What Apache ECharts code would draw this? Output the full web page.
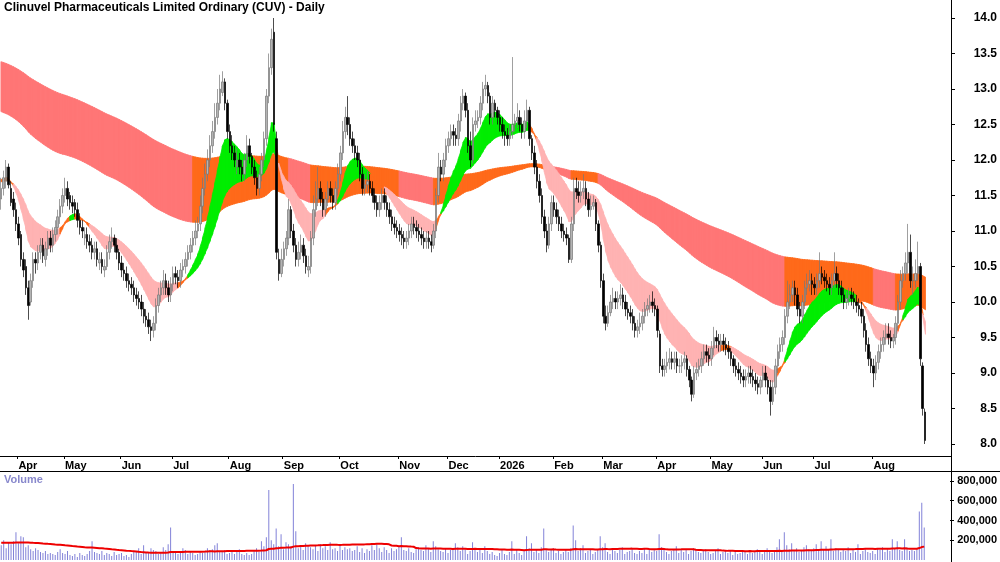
<!DOCTYPE html>
<html lang="en">
<head>
<meta charset="UTF-8">
<title>CUV Daily</title>
<script src="https://cdn.jsdelivr.net/npm/echarts@6/dist/echarts.min.js"></script>
<style>
  html,body{margin:0;padding:0;background:#fff;}
  #chart{width:1000px;height:562px;}
</style>
</head>
<body>
<div id="chart"></div>
<script>
// ---- data ----
var monthTickIndex  = [7, 26, 49, 70, 93, 115, 138, 162, 182, 203, 225, 245, 267, 289, 310, 331, 355];
var monthTickLabels = ['Apr','May','Jun','Jul','Aug','Sep','Oct','Nov','Dec','2026','Feb','Mar','Apr','May','Jun','Jul','Aug'];
var emptyBarsRight = 10;

var opens = [
11.45,11.6,11.7,11.9,11.6,11.45,11.3,11.1,10.95,10.6,
10.5,10.2,10.0,10.3,10.6,10.55,10.7,10.8,10.6,10.75,
10.9,10.8,10.95,11.05,11.2,11.35,11.5,11.6,11.5,11.4,
11.4,11.3,11.15,11.05,10.9,10.95,10.85,10.8,10.7,10.75,
10.55,10.6,10.45,10.5,10.7,10.85,10.9,10.8,10.7,10.55,
10.45,10.4,10.3,10.25,10.2,10.1,10.05,10.0,9.9,9.8,
9.75,9.65,9.6,9.7,9.95,10.1,10.2,10.3,10.2,10.1,
10.25,10.4,10.35,10.3,10.45,10.5,10.6,10.7,10.8,10.9,
11.0,11.1,11.35,11.6,11.8,12.0,12.2,12.4,12.6,12.8,
12.95,13.1,12.8,12.4,12.2,12.1,11.9,12.0,11.9,11.8,
12.0,12.2,12.05,11.9,11.75,11.6,11.8,12.0,12.3,12.9,
13.3,13.8,12.3,10.6,10.4,10.6,10.75,10.9,11.3,11.0,
10.8,10.6,10.7,10.8,10.65,10.45,10.5,10.9,11.3,11.45,
11.6,11.45,11.3,11.45,11.6,11.5,11.4,11.6,11.8,12.1,
12.4,12.6,12.5,12.3,12.2,12.1,12.0,11.8,11.6,11.65,
11.7,11.6,11.5,11.4,11.3,11.4,11.5,11.4,11.3,11.2,
11.1,11.05,11.0,10.95,10.9,10.85,10.9,11.0,11.1,11.05,
11.0,10.95,10.9,10.85,10.9,10.85,10.8,11.0,11.5,11.9,
11.8,12.0,12.2,12.3,12.4,12.35,12.3,12.55,12.8,12.9,
12.7,12.2,12.0,12.5,12.55,12.6,12.8,13.0,13.05,12.9,
12.6,12.8,12.7,12.6,12.5,12.4,12.35,12.3,12.4,12.5,
12.55,12.6,12.5,12.4,12.55,12.7,12.3,12.1,11.9,11.7,
11.5,11.2,11.0,10.8,11.1,11.4,11.3,11.2,11.1,11.0,
10.95,10.9,10.6,11.1,11.6,11.55,11.5,11.55,11.6,11.45,
11.3,11.35,11.4,11.1,10.8,10.3,9.8,9.7,9.85,10.0,
10.05,10.0,10.05,10.1,10.0,9.9,9.85,9.8,9.7,9.6,
9.65,9.7,9.8,9.9,9.95,10.0,9.95,9.9,9.55,9.1,
9.05,9.1,9.15,9.2,9.15,9.2,9.1,9.1,9.15,9.2,
9.05,8.9,8.7,9.0,9.05,9.1,9.2,9.3,9.25,9.2,
9.35,9.5,9.45,9.4,9.45,9.4,9.35,9.3,9.2,9.1,
9.05,9.0,8.95,8.9,8.95,9.0,8.95,8.9,8.85,8.8,
8.9,9.0,8.9,8.8,8.6,8.8,9.1,9.3,9.4,9.5,
9.8,10.0,10.1,10.2,10.1,9.9,9.8,10.0,10.2,10.25,
10.3,10.25,10.2,10.3,10.4,10.35,10.3,10.25,10.2,10.3,
10.4,10.3,10.2,10.1,10.0,10.05,10.1,10.05,10.0,9.95,
9.9,9.8,9.6,9.4,9.2,9.1,9.0,9.15,9.3,9.4,
9.5,9.55,9.5,9.45,9.5,9.7,10.0,10.3,10.4,10.55,
10.7,10.3,10.3,10.4,10.5,9.1,8.45];

var closes = [
11.6,11.75,11.9,11.65,11.4,11.3,11.1,10.9,10.6,10.45,
10.2,9.95,10.3,10.6,10.55,10.7,10.8,10.65,10.75,10.9,
10.8,10.95,11.05,11.2,11.35,11.5,11.6,11.45,11.4,11.35,
11.3,11.15,11.05,11.0,10.95,10.85,10.8,10.7,10.75,10.6,
10.6,10.5,10.5,10.7,10.85,10.9,10.8,10.7,10.55,10.45,
10.4,10.3,10.25,10.2,10.1,10.05,10.0,9.9,9.8,9.75,
9.65,9.6,9.7,9.95,10.1,10.2,10.3,10.2,10.1,10.25,
10.4,10.35,10.3,10.45,10.5,10.6,10.7,10.8,10.9,11.0,
11.1,11.35,11.6,11.8,12.0,12.2,12.4,12.6,12.8,13.0,
13.1,12.8,12.4,12.2,12.1,12.0,12.0,11.9,11.8,12.0,
12.2,12.05,11.9,11.75,11.6,11.8,12.0,12.3,12.9,13.3,
13.7,12.5,10.7,10.4,10.6,10.75,10.9,11.3,11.0,10.8,
10.6,10.7,10.8,10.65,10.5,10.5,10.9,11.3,11.45,11.6,
11.45,11.3,11.45,11.6,11.5,11.4,11.6,11.8,12.1,12.4,
12.6,12.5,12.3,12.2,12.1,12.0,11.8,11.6,11.65,11.7,
11.6,11.5,11.4,11.3,11.4,11.5,11.4,11.3,11.2,11.1,
11.05,11.0,10.95,10.9,10.85,10.9,11.0,11.1,11.05,11.0,
10.95,10.9,10.85,10.9,10.85,10.8,11.0,11.5,11.9,11.8,
12.0,12.2,12.3,12.4,12.35,12.3,12.55,12.8,12.9,12.7,
12.2,12.0,12.5,12.55,12.6,12.8,13.0,13.05,12.9,12.6,
12.8,12.7,12.6,12.5,12.4,12.35,12.3,12.4,12.5,12.55,
12.6,12.5,12.4,12.55,12.7,12.3,12.1,11.9,11.7,11.5,
11.2,11.0,10.8,11.1,11.4,11.3,11.2,11.1,11.0,10.95,
10.9,10.6,11.1,11.6,11.55,11.5,11.55,11.6,11.45,11.3,
11.35,11.4,11.1,10.8,10.3,9.8,9.7,9.85,10.0,10.05,
10.0,10.05,10.1,10.0,9.9,9.85,9.8,9.7,9.6,9.65,
9.7,9.8,9.9,9.95,10.0,9.95,9.9,9.6,9.1,9.05,
9.1,9.15,9.2,9.15,9.2,9.1,9.1,9.15,9.2,9.05,
8.9,8.7,9.0,9.05,9.1,9.2,9.3,9.25,9.2,9.35,
9.5,9.45,9.4,9.45,9.4,9.35,9.3,9.2,9.1,9.05,
9.0,8.95,8.9,8.95,9.0,8.95,8.9,8.85,8.8,8.9,
9.0,8.9,8.8,8.6,8.8,9.1,9.3,9.4,9.5,9.8,
10.0,10.1,10.2,10.1,9.9,9.8,10.0,10.2,10.25,10.3,
10.25,10.2,10.3,10.4,10.35,10.3,10.25,10.2,10.3,10.4,
10.3,10.2,10.1,10.0,10.05,10.1,10.05,10.0,9.95,9.9,
9.8,9.6,9.4,9.2,9.1,9.0,9.15,9.3,9.4,9.5,
9.55,9.5,9.45,9.5,9.7,10.0,10.3,10.4,10.55,10.7,
10.3,10.3,10.4,10.5,9.2,8.5,8.05];

var highs = [
11.75,11.85,12.0,11.95,11.7,11.55,11.4,11.2,11.0,10.7,
10.6,10.3,10.4,10.7,10.7,10.8,10.9,10.9,10.85,11.0,
11.0,11.05,11.15,11.3,11.45,11.6,11.75,11.7,11.55,11.5,
11.45,11.4,11.25,11.15,11.05,11.05,10.95,10.9,10.85,10.85,
10.7,10.7,10.6,10.8,10.95,11.05,10.95,10.9,10.75,10.65,
10.55,10.5,10.4,10.35,10.3,10.2,10.15,10.1,10.0,9.9,
9.85,9.75,9.8,10.05,10.2,10.3,10.45,10.4,10.3,10.35,
10.5,10.5,10.45,10.55,10.6,10.7,10.8,10.9,11.0,11.15,
11.2,11.5,11.75,11.95,12.15,12.35,12.55,12.8,13.0,13.2,
13.25,13.15,12.85,12.5,12.35,12.2,12.15,12.1,12.0,12.1,
12.35,12.3,12.1,12.0,11.85,11.9,12.1,12.4,13.0,13.5,
13.85,14.0,12.4,10.75,10.75,10.85,11.0,11.45,11.35,11.1,
10.9,10.85,10.95,10.9,10.75,10.65,11.0,11.5,11.7,11.9,
11.7,11.55,11.55,11.7,11.7,11.6,11.7,11.95,12.2,12.55,
12.75,12.9,12.6,12.4,12.3,12.2,12.1,11.9,11.8,11.85,
11.8,11.7,11.6,11.5,11.5,11.6,11.6,11.5,11.4,11.3,
11.2,11.15,11.1,11.05,11.0,11.0,11.1,11.2,11.2,11.15,
11.1,11.05,11.0,11.0,11.0,10.95,11.1,11.6,12.1,12.0,
12.1,12.3,12.4,12.5,12.5,12.45,12.65,12.9,13.0,12.95,
12.8,12.4,12.6,12.7,12.7,12.9,13.1,13.2,13.1,12.95,
12.9,12.85,12.75,12.7,12.6,12.5,12.45,12.5,13.45,12.65,
12.8,12.7,12.6,12.7,12.85,12.75,12.35,12.2,12.0,11.8,
11.6,11.3,11.1,11.2,11.5,11.5,11.4,11.3,11.2,11.1,
11.05,10.95,11.2,11.75,11.75,11.7,11.7,11.8,11.7,11.55,
11.5,11.5,11.45,11.15,10.85,10.4,9.95,9.95,10.1,10.2,
10.15,10.15,10.25,10.2,10.1,10.0,9.95,9.9,9.8,9.75,
9.85,9.9,10.0,10.05,10.1,10.15,10.05,9.95,9.6,9.2,
9.2,9.3,9.35,9.3,9.3,9.3,9.2,9.25,9.3,9.25,
9.1,8.95,9.1,9.15,9.2,9.3,9.4,9.4,9.35,9.45,
9.65,9.6,9.55,9.55,9.55,9.5,9.45,9.35,9.25,9.2,
9.15,9.1,9.05,9.05,9.1,9.1,9.05,9.0,8.95,8.95,
9.1,9.1,8.95,8.9,8.9,9.2,9.4,9.5,9.6,9.9,
10.3,10.25,10.3,10.3,10.2,10.0,10.1,10.3,10.4,10.45,
10.4,10.35,10.4,10.7,10.5,10.45,10.4,10.35,10.4,10.7,
10.5,10.4,10.3,10.2,10.15,10.2,10.2,10.15,10.1,10.05,
10.0,9.9,9.7,9.5,9.3,9.2,9.25,9.4,9.5,9.6,
9.7,9.7,9.6,9.55,9.8,10.1,10.45,10.5,10.7,11.1,
10.95,10.5,10.6,10.85,10.55,9.15,8.5];

var lows = [
11.3,11.5,11.6,11.6,11.35,11.2,11.0,10.8,10.5,10.35,
10.1,9.75,9.95,10.2,10.4,10.45,10.6,10.55,10.5,10.65,
10.7,10.7,10.85,10.95,11.1,11.25,11.4,11.35,11.3,11.25,
11.2,11.05,10.95,10.9,10.8,10.75,10.7,10.6,10.6,10.5,
10.45,10.4,10.35,10.45,10.6,10.75,10.7,10.6,10.45,10.35,
10.3,10.2,10.15,10.1,10.0,9.95,9.9,9.8,9.7,9.65,
9.55,9.45,9.5,9.6,9.85,10.0,10.1,10.1,10.0,10.0,
10.15,10.25,10.2,10.2,10.35,10.4,10.5,10.6,10.7,10.8,
10.9,11.0,11.25,11.5,11.7,11.9,12.1,12.3,12.5,12.7,
12.9,12.7,12.3,12.1,12.0,11.9,11.8,11.8,11.7,11.7,
11.9,11.95,11.8,11.65,11.5,11.5,11.7,11.9,12.2,12.8,
13.2,12.4,10.6,10.3,10.35,10.5,10.65,10.8,10.9,10.7,
10.5,10.5,10.6,10.55,10.4,10.35,10.4,10.8,11.2,11.35,
11.35,11.2,11.2,11.35,11.4,11.3,11.3,11.5,11.7,12.0,
12.3,12.35,12.2,12.1,12.0,11.9,11.7,11.5,11.5,11.55,
11.5,11.4,11.3,11.2,11.2,11.3,11.3,11.2,11.1,11.0,
10.95,10.9,10.85,10.8,10.75,10.75,10.8,10.9,10.95,10.9,
10.85,10.8,10.75,10.75,10.75,10.7,10.75,10.9,11.4,11.7,
11.7,11.9,12.1,12.2,12.2,12.2,12.2,12.4,12.7,12.6,
12.1,11.9,11.95,12.4,12.45,12.5,12.7,12.9,12.8,12.5,
12.5,12.6,12.5,12.4,12.3,12.2,12.2,12.2,12.3,12.4,
12.45,12.4,12.3,12.3,12.45,12.2,12.0,11.8,11.6,11.4,
11.1,10.9,10.7,10.75,11.0,11.2,11.1,11.0,10.9,10.85,
10.8,10.55,10.55,11.0,11.45,11.4,11.4,11.45,11.35,11.2,
11.2,11.3,11.0,10.7,10.2,9.7,9.6,9.65,9.8,9.9,
9.9,9.9,9.95,9.9,9.8,9.75,9.7,9.6,9.5,9.5,
9.55,9.6,9.7,9.8,9.85,9.85,9.8,9.5,9.0,8.95,
8.95,9.0,9.05,9.05,9.05,9.0,9.0,9.0,9.05,8.95,
8.8,8.6,8.65,8.9,8.95,9.0,9.1,9.15,9.1,9.1,
9.25,9.35,9.3,9.3,9.3,9.25,9.2,9.1,9.0,8.95,
8.9,8.85,8.8,8.8,8.85,8.85,8.8,8.75,8.7,8.7,
8.8,8.8,8.7,8.4,8.55,8.7,9.0,9.2,9.3,9.4,
9.7,9.9,10.0,9.95,9.8,9.7,9.7,9.9,10.1,10.15,
10.1,10.1,10.1,10.2,10.25,10.2,10.15,10.1,10.1,10.2,
10.2,10.1,10.0,9.9,9.9,9.95,9.95,9.9,9.85,9.8,
9.7,9.5,9.3,9.1,9.0,8.8,8.9,9.05,9.2,9.3,
9.4,9.4,9.35,9.35,9.4,9.6,9.9,10.2,10.3,10.4,
10.2,10.1,10.2,10.3,9.1,8.4,8.0];

// volume in thousands of shares
var volumes = [
150,200,120,180,160,190,280,170,240,230,130,150,110,90,120,100,80,70,90,60,
70,60,50,80,110,70,60,90,50,40,60,30,70,50,40,60,90,190,80,70,
60,90,50,70,60,40,80,50,60,70,40,50,30,60,80,90,120,60,150,80,
70,120,100,90,60,80,130,100,160,330,90,70,60,80,120,100,60,90,70,50,
60,80,70,90,120,100,110,150,170,90,80,100,60,70,90,60,80,110,60,50,
70,50,60,90,120,80,190,140,230,710,200,160,320,140,260,110,180,160,140,770,
290,120,150,100,170,140,130,110,150,90,160,120,140,100,180,110,120,90,150,100,
130,110,120,90,100,140,80,120,70,110,90,150,100,160,120,80,130,100,70,120,
90,110,140,230,100,90,120,80,70,110,130,100,90,150,120,80,190,140,110,90,
80,120,70,100,110,170,130,90,140,110,60,90,180,120,80,100,70,140,90,60,
80,50,40,70,100,60,50,80,190,60,100,70,50,90,240,120,170,80,110,70,
130,320,100,80,110,120,70,90,60,80,100,80,120,350,200,90,120,150,70,90,
100,60,80,110,240,130,170,80,60,120,90,70,100,130,60,80,90,110,70,60,
90,70,120,60,100,80,110,90,260,130,100,80,60,90,110,140,70,100,80,110,
60,90,120,100,80,70,90,110,80,60,70,90,120,60,80,100,70,90,50,80,
60,70,90,80,60,100,70,80,110,90,60,80,120,100,70,90,130,210,90,280,
150,110,170,90,120,80,100,130,150,110,90,120,160,100,190,110,140,100,210,90,
120,100,80,110,90,130,70,100,80,160,60,90,110,80,70,90,60,120,100,130,
80,110,90,210,120,190,100,90,210,130,
90,100,90,110,490,580,330];

// ribbon settings: EMA periods and their levels at the left edge
var shortPeriods = [12, 30];
var shortSeeds = [11.75, 11.7];
var longPeriods = [120, 240];
var longSeeds = [12.7, 13.4];
var volumeAvgPeriod = 50;
var volumeAvgSeed = 175;   // average level at the left edge, thousands

// ---- build ----
var nBars = closes.length;
var cats = [];
for (var k = 0; k < nBars + emptyBarsRight; k++) cats.push(String(k));
var tickAt = {};
monthTickIndex.forEach(function (ix, j) { tickAt[ix] = monthTickLabels[j]; });
function isTick(i) { return tickAt.hasOwnProperty(i); }

function ema(src, p, seed) {
    var k = 2 / (p + 1), out = [], prev = seed;
    for (var i = 0; i < src.length; i++) { prev = prev + k * (src[i] - prev); out.push(prev); }
    return out;
}
var sFast = ema(closes, shortPeriods[0], shortSeeds[0]);
var sSlow = ema(closes, shortPeriods[1], shortSeeds[1]);
var lFast = ema(closes, longPeriods[0], longSeeds[0]);
var lSlow = ema(closes, longPeriods[1], longSeeds[1]);

function bandData(a, b, colorOf) {
    var out = [];
    for (var i = 1; i < a.length; i++) {
        out.push([i, Math.max(a[i], b[i]), Math.min(a[i], b[i]),
                  Math.max(a[i-1], b[i-1]), Math.min(a[i-1], b[i-1]), colorOf(i)]);
    }
    return out;
}
var bandColors = ['#00ee00', '#ffb3b3', '#ff6a1a', '#ff7676'];
var shortBand = bandData(sFast, sSlow, function (i) {
    var d = sFast[i] - sSlow[i];
    if (Math.abs(d) < 0.07) return 2;
    return d > 0 ? 0 : 1;
});
// long ribbon turns orange while recent prices trade into it
var longBand = bandData(lFast, lSlow, function (i) {
    var lo = Math.min(lFast[i], lSlow[i]);
    for (var j = Math.max(0, i - 5); j <= i; j++) if (highs[j] > lo) return 2;
    return 3;
});

var volAvg = volumes.map(function (v, i) {
    var s = 0;
    for (var j = i - volumeAvgPeriod + 1; j <= i; j++) s += j < 0 ? volumeAvgSeed : volumes[j];
    return s / volumeAvgPeriod * 1000;
});

var candles = closes.map(function (c, i) { return [opens[i], c, lows[i], highs[i]]; });

function renderBand(params, api) {
    var i = api.value(0);
    var a = api.coord([i - 1, api.value(3)]);
    var b = api.coord([i, api.value(1)]);
    var c = api.coord([i, api.value(2)]);
    var d = api.coord([i - 1, api.value(4)]);
    var col = bandColors[api.value(5)];
    return {
        type: 'polygon',
        shape: { points: [[a[0] - 0.3, a[1]], [b[0] + 0.3, b[1]], [c[0] + 0.3, c[1]], [d[0] - 0.3, d[1]]] },
        style: { fill: col, stroke: col, lineWidth: 0.8 }
    };
}

var chart = echarts.init(document.getElementById('chart'));
var font = 'Arial, "Liberation Sans", sans-serif';
var axisX = 951;
chart.setOption({
    animation: false,
    textStyle: { fontFamily: font },
    grid: [
        { left: 0, right: 1000 - axisX, top: 18, bottom: 118 },
        { left: 0, right: 1000 - axisX, top: 472, bottom: 2 }
    ],
    xAxis: [{
        type: 'category', data: cats, gridIndex: 0, offset: 12,
        axisLine: { lineStyle: { color: '#000' } },
        axisTick: { show: true, length: 3, interval: function (i) { return isTick(i); }, lineStyle: { color: '#000' } },
        axisLabel: {
            interval: function (i) { return isTick(i); },
            formatter: function (v, i) { return tickAt[i] || ''; },
            align: 'left', margin: 4,
            color: '#000', fontSize: 11, fontWeight: 'bold'
        },
        splitLine: { show: false }
    }, {
        type: 'category', data: cats, gridIndex: 1,
        axisLine: { show: false }, axisTick: { show: false }, axisLabel: { show: false }
    }],
    yAxis: [{
        type: 'value', gridIndex: 0, position: 'right', min: 8, max: 14, interval: 0.5,
        axisLine: { show: false },
        axisTick: { show: true, length: 4, lineStyle: { color: '#000' } },
        axisLabel: { color: '#000', fontSize: 12, fontWeight: 'bold', align: 'right', margin: 46,
            formatter: function (v) { return v.toFixed(1); } },
        splitLine: { show: false }
    }, {
        type: 'value', gridIndex: 1, position: 'right', min: 0, max: 891000, interval: 200000,
        axisLine: { show: false },
        axisTick: { show: true, length: 4, lineStyle: { color: '#000' } },
        axisLabel: { color: '#000', fontSize: 11, fontWeight: 'bold', align: 'right', margin: 47, showMinLabel: false,
            formatter: function (v) { return v.toLocaleString('en-US'); } },
        splitLine: { show: false }
    }],
    series: [
        { type: 'custom', name: 'long', xAxisIndex: 0, yAxisIndex: 0, renderItem: renderBand,
          data: longBand, encode: { x: 0, y: [1, 2] }, clip: true, silent: true, z: 1 },
        { type: 'custom', name: 'short', xAxisIndex: 0, yAxisIndex: 0, renderItem: renderBand,
          data: shortBand, encode: { x: 0, y: [1, 2] }, clip: true, silent: true, z: 2 },
        { type: 'candlestick', xAxisIndex: 0, yAxisIndex: 0, data: candles, barWidth: 2, z: 3,
          itemStyle: { color: '#b4b4b4', color0: '#000', borderColor: '#777', borderColor0: '#000', borderWidth: 0.7 } },
        { type: 'bar', xAxisIndex: 1, yAxisIndex: 1, barWidth: 1,
          data: volumes.map(function (v) { return v * 1000; }),
          itemStyle: { color: '#8282d8' } },
        { type: 'line', xAxisIndex: 1, yAxisIndex: 1, data: volAvg, symbol: 'none',
          lineStyle: { color: '#ee0000', width: 2 }, z: 5 }
    ],
    graphic: [
        { type: 'text', left: 4, top: 2, style: { text: 'Clinuvel Pharmaceuticals Limited Ordinary (CUV) - Daily',
          font: 'bold 12px ' + font, fill: '#000' } },
        { type: 'text', left: 4, top: 474, style: { text: 'Volume', font: 'bold 11px ' + font, fill: '#8888cc' } },
        { type: 'line', shape: { x1: axisX + 0.5, y1: 0, x2: axisX + 0.5, y2: 562 }, style: { stroke: '#000', lineWidth: 1 } },
        { type: 'line', shape: { x1: 0, y1: 471.5, x2: 1000, y2: 471.5 }, style: { stroke: '#000', lineWidth: 1 } }
    ]
});
</script>
</body>
</html>
